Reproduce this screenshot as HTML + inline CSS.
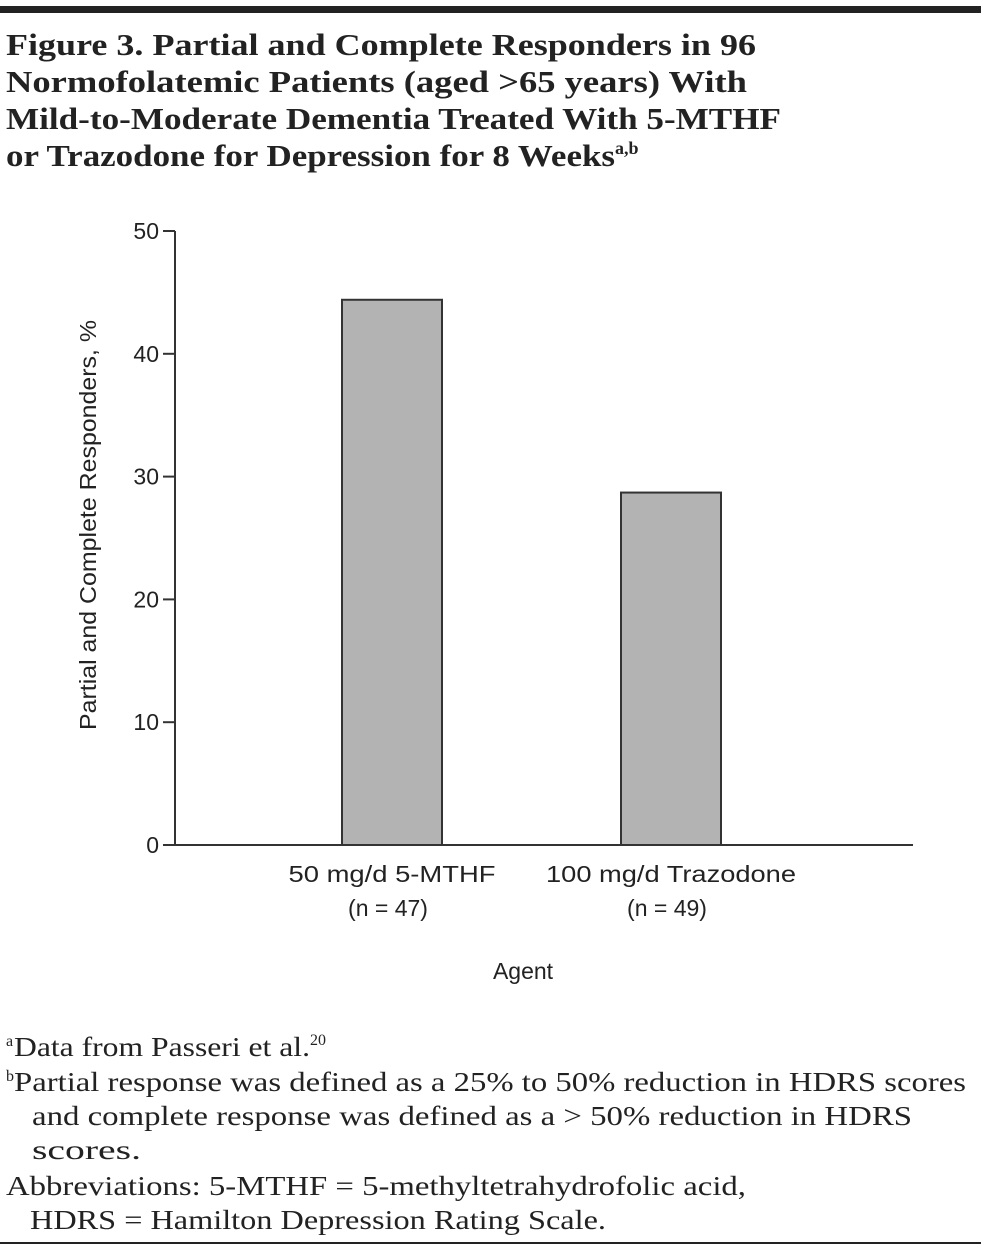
<!DOCTYPE html>
<html><head><meta charset="utf-8"><style>
html,body{margin:0;padding:0;background:#fff}
svg{display:block}
.t{font-family:"Liberation Serif",serif;font-size:31px;font-weight:bold;fill:#222}
.s{font-family:"Liberation Sans",sans-serif;font-size:23px;fill:#222}
.f{font-family:"Liberation Serif",serif;font-size:27px;fill:#222}
</style></head><body>
<svg id="c" width="985" height="1253" xmlns="http://www.w3.org/2000/svg">
<rect x="0" y="6" width="981" height="7" fill="#222"/>
<g>
<text class="t" x="6" y="55" textLength="750" lengthAdjust="spacingAndGlyphs">Figure 3. Partial and Complete Responders in 96</text>
<text class="t" x="6" y="92" textLength="741" lengthAdjust="spacingAndGlyphs">Normofolatemic Patients (aged &gt;65 years) With</text>
<text class="t" x="6" y="129" textLength="775" lengthAdjust="spacingAndGlyphs">Mild-to-Moderate Dementia Treated With 5-MTHF</text>
<text class="t" x="6" y="166"><tspan textLength="609" lengthAdjust="spacingAndGlyphs">or Trazodone for Depression for 8 Weeks</tspan><tspan font-size="18" dy="-12">a,b</tspan></text>
</g>
<g id="plot"></g>
<text class="s" x="523" y="979" text-anchor="middle">Agent</text>
<text class="s" transform="translate(96,525) rotate(-90)" text-anchor="middle" textLength="410" lengthAdjust="spacingAndGlyphs">Partial and Complete Responders, %</text>
<g>
<text class="f" x="6" y="1056"><tspan font-size="16" dy="-10">a</tspan><tspan dy="10" x="14" textLength="296" lengthAdjust="spacingAndGlyphs">Data from Passeri et al.</tspan><tspan font-size="16" dy="-11">20</tspan></text>
<text class="f" x="6" y="1091"><tspan font-size="16" dy="-10">b</tspan><tspan dy="10" x="14" textLength="952" lengthAdjust="spacingAndGlyphs">Partial response was defined as a 25% to 50% reduction in HDRS scores</tspan></text>
<text class="f" x="32" y="1125" textLength="880" lengthAdjust="spacingAndGlyphs">and complete response was defined as a &gt; 50% reduction in HDRS</text>
<text class="f" x="32" y="1159" textLength="109" lengthAdjust="spacingAndGlyphs">scores.</text>
<text class="f" x="6" y="1195" textLength="740" lengthAdjust="spacingAndGlyphs">Abbreviations: 5-MTHF = 5-methyltetrahydrofolic acid,</text>
<text class="f" x="30" y="1229" textLength="576" lengthAdjust="spacingAndGlyphs">HDRS = Hamilton Depression Rating Scale.</text>
</g>
<rect x="0" y="1242" width="981" height="2" fill="#222"/>
</svg>
<script>
const categories=["50 mg/d 5-MTHF","100 mg/d Trazodone"];
const nLabels=["(n = 47)","(n = 49)"];
const values=[44.4,28.7];
const yTicks=[0,10,20,30,40,50];
const NS="http://www.w3.org/2000/svg";
const g=document.getElementById('plot');
const y0=845,yTop=231,yMax=50,x0=175,xEnd=913;
const y=v=>y0-(v/yMax)*(y0-yTop);
const centers=[392,671];const bw=100;
const catW=[207,250];
function mk(t,a){const e=document.createElementNS(NS,t);for(const k in a)e.setAttribute(k,a[k]);g.appendChild(e);return e;}
const ya=mk('line',{x1:x0,y1:yTop,x2:x0,y2:y0,stroke:'#333','stroke-width':2});


yTicks.forEach(v=>{
 const tl=mk('line',{x1:x0-12,y1:y(v),x2:x0,y2:y(v),stroke:'#333','stroke-width':2});
 
 
 const tx=mk('text',{x:x0-16,y:y(v)+8,'text-anchor':'end',class:'s'});
 tx.textContent=v;
 
 
});
values.forEach((v,i)=>{
 const r=mk('rect',{x:centers[i]-bw/2,y:y(v),width:bw,height:y0-y(v),fill:'#b3b3b3',stroke:'#333','stroke-width':2});
 
 
 const l=mk('text',{x:centers[i]-catW[i]/2,y:882,class:'s',textLength:catW[i],lengthAdjust:'spacingAndGlyphs'});
 l.textContent=categories[i];
 
 
 const n=mk('text',{x:centers[i]-4,y:916,'text-anchor':'middle',class:'s'});
 n.textContent=nLabels[i];
 
 
});
const xa=mk('line',{x1:x0,y1:y0,x2:xEnd,y2:y0,stroke:'#333','stroke-width':2});


</script>
</body></html>
